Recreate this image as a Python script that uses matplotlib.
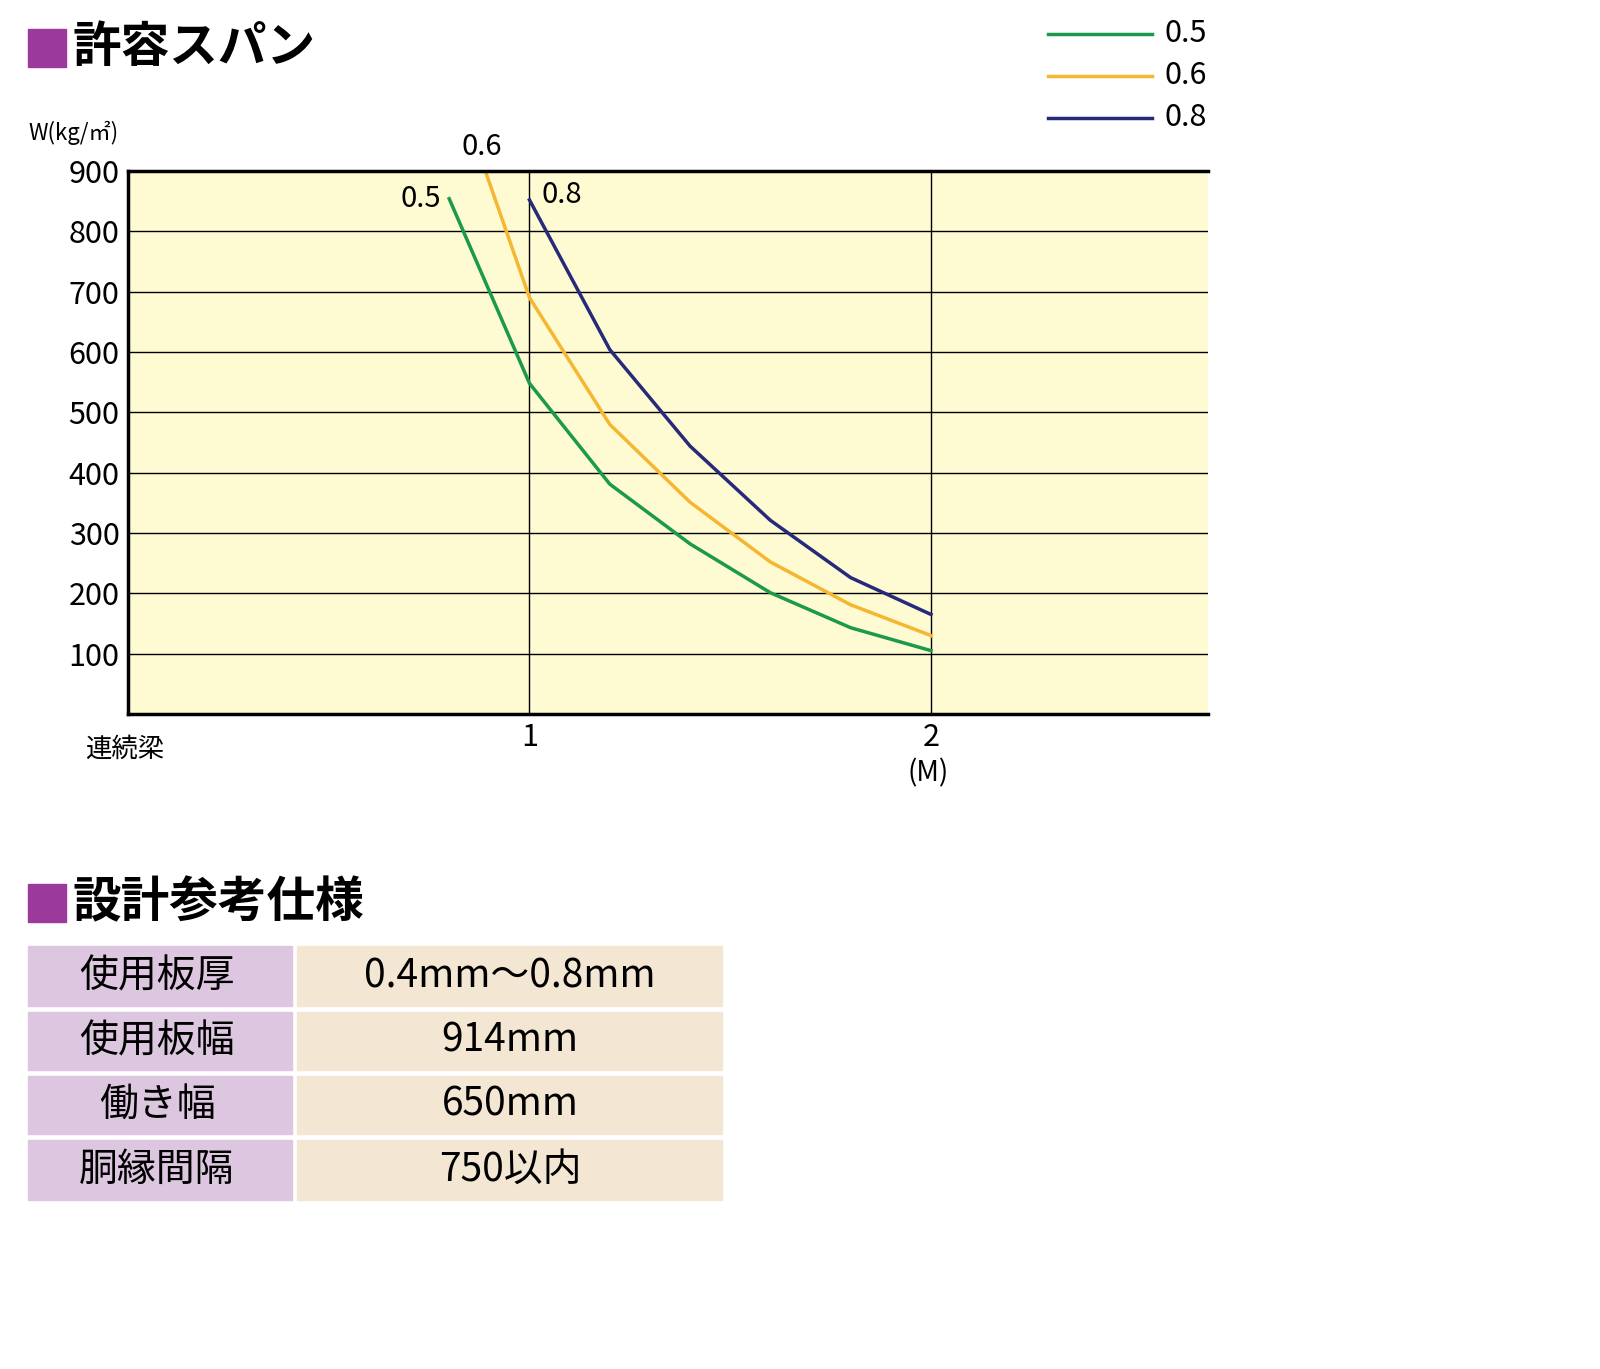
import matplotlib
matplotlib.use('Agg')
import matplotlib.pyplot as plt
from matplotlib.patches import Rectangle
from matplotlib.lines import Line2D

plt.rcParams['font.family'] = ['Noto Sans CJK JP', 'DejaVu Sans']

# spans (m) and allowable load W (kg/m2) per sheet thickness
series = {
    '0.5': ([0.80, 1.0, 1.2, 1.4, 1.6, 1.8, 2.0], [854, 548, 381, 282, 201, 143, 105]),
    '0.6': ([0.89, 1.0, 1.2, 1.4, 1.6, 1.8, 2.0], [900, 690, 480, 351, 252, 181, 130]),
    '0.8': ([1.0, 1.2, 1.4, 1.6, 1.8, 2.0], [852, 604, 444, 321, 226, 165]),
}
colors = {'0.5': '#1a9a4a', '0.6': '#f5b731', '0.8': '#262a7a'}
yticks = [100, 200, 300, 400, 500, 600, 700, 800, 900]

spec_names = ['使用板厚', '使用板幅', '働き幅', '胴縁間隔']
spec_values = ['0.4mm～0.8mm', '914mm', '650mm', '750以内']

W, H = 1600, 1369
fig = plt.figure(figsize=(16, 13.69), dpi=100)

def fx(px): return px / W
def fy(py): return 1 - py / H

ax = fig.add_axes([fx(128), fy(714), fx(1208) - fx(128), fy(171) - fy(714)])
ax.set_facecolor('#fefad2')
ax.set_xlim(0, 2.69)
ax.set_ylim(0, 900)
for y in yticks:
    ax.axhline(y, color='black', lw=1)
for x in [1, 2]:
    ax.axvline(x, color='black', lw=1)
for name, (xs, ys) in series.items():
    ax.plot(xs, ys, color=colors[name], lw=2.5)
# curve labels
ax.text(0.78, 854, '0.5', ha='right', va='center', fontsize=21)
ax.text(0.88, 915, '0.6', ha='center', va='bottom', fontsize=21)
ax.text(1.03, 860, '0.8', ha='left', va='center', fontsize=21)

ax.set_yticks(yticks)
ax.set_yticklabels([str(v) for v in yticks], fontsize=22)
ax.set_xticks([1, 2])
ax.set_xticklabels(['1', '2'], fontsize=22)
ax.tick_params(length=0, pad=6)
for s in ['top', 'right']:
    ax.spines[s].set_visible(False)
ax.spines['left'].set_linewidth(2.5)
ax.spines['bottom'].set_linewidth(2.5)
ax.plot([0, 2.69], [900, 900], color='black', lw=2.5, clip_on=False)

# legend drawn by hand at top right
for i, name in enumerate(series):
    ly = fy(34 + 42 * i)
    fig.lines.append(Line2D([fx(1048), fx(1152)], [ly, ly], transform=fig.transFigure,
                            color=colors[name], lw=2.5))
    fig.text(fx(1165), ly, name, fontsize=22, va='center')

fig.text(fx(28), fy(133), 'W(kg/㎡)', fontsize=16, va='center')
fig.text(fx(85), fy(749), '連続梁', fontsize=19, va='center')
fig.text(fx(928), fy(773), '(M)', fontsize=20, ha='center', va='center')

# section titles
for ty, title in [(48, '許容スパン'), (903, '設計参考仕様')]:
    fig.patches.append(Rectangle((fx(28), fy(ty + 19)), fx(38), fy(0) - fy(38),
                                 transform=fig.transFigure, color='#9b3a9b'))
    fig.text(fx(72), fy(ty), title, fontsize=35, fontweight='bold', va='center')

# spec table
rows = [(946, 1006), (1012, 1070), (1076, 1134), (1140, 1200)]
for (top, bot), nm, val in zip(rows, spec_names, spec_values):
    fig.patches.append(Rectangle((fx(28), fy(bot)), fx(264), fy(top) - fy(bot),
                                 transform=fig.transFigure, color='#dcc6e0'))
    fig.patches.append(Rectangle((fx(297), fy(bot)), fx(425), fy(top) - fy(bot),
                                 transform=fig.transFigure, color='#f3e7d4'))
    cy = fy((top + bot) / 2)
    fig.text(fx(157), cy, nm, fontsize=28, ha='center', va='center')
    fig.text(fx(510), cy, val, fontsize=28, ha='center', va='center')

fig.savefig('out.png', dpi=100)
